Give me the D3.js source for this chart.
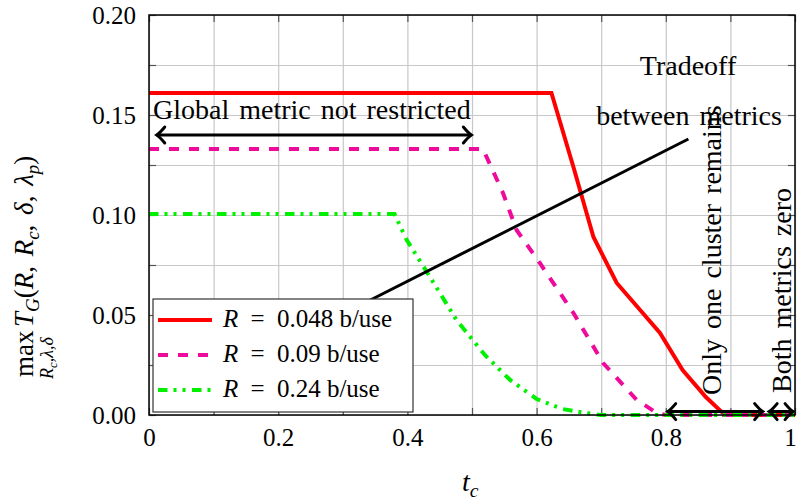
<!DOCTYPE html>
<html>
<head>
<meta charset="utf-8">
<script src="https://cdn.jsdelivr.net/npm/d3@7"></script>
<style>
body { margin: 0; background: #fff; }
svg { display: block; }
text { font-family: "Liberation Serif", "Times New Roman", serif; fill: #000; }
</style>
</head>
<body>
<script>
// values
const tcRed = [0, 0.623, 0.657, 0.688, 0.724, 0.791, 0.826, 0.862, 0.886, 0.895, 1];
const valRed = [0.161, 0.161, 0.124, 0.089, 0.066, 0.041, 0.0225, 0.009, 0.0017, 0, 0];
const tcMag = [0, 0.517, 0.548, 0.569, 0.605, 0.657, 0.703, 0.755, 0.786, 0.80, 1];
const valMag = [0.133, 0.133, 0.111, 0.0925, 0.076, 0.051, 0.026, 0.0075, 0.001, 0, 0];
const tcGreen = [0, 0.38, 0.399, 0.435, 0.476, 0.52, 0.559, 0.60, 0.64, 0.676, 0.70, 1];
const valGreen = [0.1005, 0.1005, 0.0875, 0.069, 0.0475, 0.03, 0.0175, 0.008, 0.003, 0.001, 0, 0];
const seriesRates = ["0.048", "0.09", "0.24"];
const xTickLabels = [0, 0.2, 0.4, 0.6, 0.8, 1];
const yTickLabels = [0, 0.05, 0.10, 0.15, 0.20];
const xGrid = d3.range(0, 1.0001, 0.1);
const yGrid = d3.range(0, 0.2001, 0.025);
// annotation line and arrows (data coordinates)
const tradeoffLine = [[0.30, 0.0505], [0.835, 0.138]];
const globalArrow = [0.012, 0.499, 0.14];
const clusterArrow = [0.803, 0.950, 0.0017];
const zeroArrow = [0.960, 0.997, 0.0017];

const width = 797, height = 501;
const svg = d3.select("body").append("svg")
  .attr("width", width).attr("height", height)
  .attr("viewBox", [0, 0, width, height]);

const x = d3.scaleLinear().domain([0, 1]).range([149, 795]);
const y = d3.scaleLinear().domain([0, 0.2]).range([415, 15]);

// grid
svg.append("g").attr("transform", "translate(0,415)")
  .call(d3.axisBottom(x).tickValues(xGrid).tickSize(-400).tickFormat(""))
  .call(g => g.select(".domain").remove())
  .call(g => g.selectAll("line").attr("stroke", "#c8c8c8").attr("stroke-width", 1.2));
svg.append("g").attr("transform", "translate(149,0)")
  .call(d3.axisLeft(y).tickValues(yGrid).tickSize(-646).tickFormat(""))
  .call(g => g.select(".domain").remove())
  .call(g => g.selectAll("line").attr("stroke", "#c8c8c8").attr("stroke-width", 1.2));

// small inward ticks
const tickStyle = g => { g.select(".domain").remove(); g.selectAll("line").attr("stroke", "#555").attr("stroke-width", 1.2); };
svg.append("g").attr("transform", "translate(149,0)").call(d3.axisLeft(y).tickValues(yGrid).tickSize(-7).tickFormat("")).call(tickStyle);
svg.append("g").attr("transform", "translate(795,0)").call(d3.axisRight(y).tickValues(yGrid).tickSize(-7).tickFormat("")).call(tickStyle);
svg.append("g").attr("transform", "translate(0,415)").call(d3.axisBottom(x).tickValues(xGrid).tickSize(-7).tickFormat("")).call(tickStyle);
svg.append("g").attr("transform", "translate(0,15)").call(d3.axisTop(x).tickValues(xGrid).tickSize(-7).tickFormat("")).call(tickStyle);

// tick labels
svg.append("g").attr("transform", "translate(0,415)")
  .call(d3.axisBottom(x).tickValues(xTickLabels).tickSize(0).tickPadding(13)
    .tickFormat(d => (d === 0 || d === 1) ? d : d.toFixed(1)))
  .call(g => g.select(".domain").remove())
  .call(g => g.selectAll("text").attr("font-size", 25))
  .call(g => g.selectAll("text").filter(d => d === 1).attr("dx", -5));
svg.append("g").attr("transform", "translate(149,0)")
  .call(d3.axisLeft(y).tickValues(yTickLabels).tickSize(0).tickPadding(13).tickFormat(d3.format(".2f")))
  .call(g => g.select(".domain").remove())
  .call(g => g.selectAll("text").attr("font-size", 25));

// curves
const line = d3.line().x(d => x(d[0])).y(d => y(d[1]));
const series = [
  {data: d3.zip(tcRed, valRed), color: "#ff0000", dash: null},
  {data: d3.zip(tcMag, valMag), color: "#ee0a9a", dash: "10,10"},
  {data: d3.zip(tcGreen, valGreen), color: "#00f000", dash: "9.5,6,3,6,3,6.5"}
];
series.forEach(s => {
  svg.append("path").datum(s.data)
    .attr("d", line).attr("fill", "none")
    .attr("stroke", s.color).attr("stroke-width", 4)
    .attr("stroke-dasharray", s.dash);
});

// annotations
svg.append("path").datum(tradeoffLine).attr("d", line)
  .attr("fill", "none").attr("stroke", "#000").attr("stroke-width", 3);

function arrow(a) {
  const x0 = x(a[0]), x1 = x(a[1]), yy = y(a[2]);
  const g = svg.append("g").attr("fill", "none").attr("stroke", "#000")
    .attr("stroke-width", 3).attr("stroke-linecap", "round");
  g.append("line").attr("x1", x0 + 1).attr("x2", x1 - 1).attr("y1", yy).attr("y2", yy);
  g.append("path").attr("d", `M${x1 - 8},${yy - 8} Q${x1 - 3},${yy - 2} ${x1},${yy} Q${x1 - 3},${yy + 2} ${x1 - 8},${yy + 8}`);
  g.append("path").attr("d", `M${x0 + 8},${yy - 8} Q${x0 + 3},${yy - 2} ${x0},${yy} Q${x0 + 3},${yy + 2} ${x0 + 8},${yy + 8}`);
}
arrow(globalArrow);
arrow(clusterArrow);
arrow(zeroArrow);

svg.append("text").attr("x", 153).attr("y", 119).attr("font-size", 28).attr("word-spacing", 3)
  .text("Global metric not restricted");
svg.append("text").attr("x", 688).attr("y", 75).attr("font-size", 28).attr("text-anchor", "middle")
  .text("Tradeoff");
svg.append("text").attr("x", 689).attr("y", 125).attr("font-size", 28).attr("text-anchor", "middle").attr("word-spacing", 3)
  .text("between metrics");
svg.append("text").attr("transform", "translate(721,395) rotate(-90)").attr("font-size", 28).attr("word-spacing", 3)
  .text("Only one cluster remains");
svg.append("text").attr("transform", "translate(791,393) rotate(-90)").attr("font-size", 28).attr("word-spacing", 3)
  .text("Both metrics zero");

// math helper: parts = [text, kind] kind: r roman, i italic, s italic subscript
function math(sel, parts, size) {
  let sub = false;
  parts.forEach(([t, k]) => {
    const ts = sel.append("tspan").text(t);
    if (k === "i" || k === "s") ts.attr("font-style", "italic");
    if (k === "s") {
      ts.attr("font-size", size * 0.7);
      if (!sub) ts.attr("dy", size * 0.22);
      sub = true;
    } else {
      ts.attr("font-size", size);
      if (sub) ts.attr("dy", -size * 0.22);
      sub = false;
    }
  });
  return sel;
}

// legend
const lg = svg.append("g");
lg.append("rect").attr("x", 153).attr("y", 299).attr("width", 260).attr("height", 113)
  .attr("fill", "#fff").attr("stroke", "#333").attr("stroke-width", 1.2);
series.forEach((s, i) => {
  const yy = 320 + i * 35;
  lg.append("line").attr("x1", 158).attr("x2", 212).attr("y1", yy).attr("y2", yy)
    .attr("stroke", s.color).attr("stroke-width", 4).attr("stroke-dasharray", s.dash);
  const t = lg.append("text").attr("x", 223).attr("y", yy + 7);
  math(t, [["R", "i"], [" = ", "r"], [seriesRates[i] + " b/use", "r"]], 25);
  t.selectAll("tspan").filter((d, j) => j === 1).attr("word-spacing", 6);
});

// axis frame
svg.append("rect").attr("x", 149).attr("y", 15).attr("width", 646).attr("height", 400)
  .attr("fill", "none").attr("stroke", "#000").attr("stroke-width", 1.5);

// x label
const xl = svg.append("text").attr("x", 462).attr("y", 491);
math(xl, [["t", "i"], ["c", "s"]], 28);

// y label
const yl = svg.append("g").attr("transform", "translate(33,377) rotate(-90)");
yl.append("text").attr("x", 0).attr("y", 0).attr("font-size", 27).text("max");
const ys = yl.append("text").attr("x", 19).attr("y", 20).attr("text-anchor", "middle");
math(ys, [["R", "i"], ["c", "s"], [",λ,δ", "i"]], 18);
const ym = yl.append("text").attr("x", 50).attr("y", 0).attr("word-spacing", 3);
math(ym, [["T", "i"], ["G", "s"], ["(", "r"], ["R", "i"], [", ", "r"], ["R", "i"], ["c", "s"], [", ", "r"],
  ["δ", "i"], [", ", "r"], ["λ", "i"], ["p", "s"], [")", "r"]], 27);
</script>
</body>
</html>
